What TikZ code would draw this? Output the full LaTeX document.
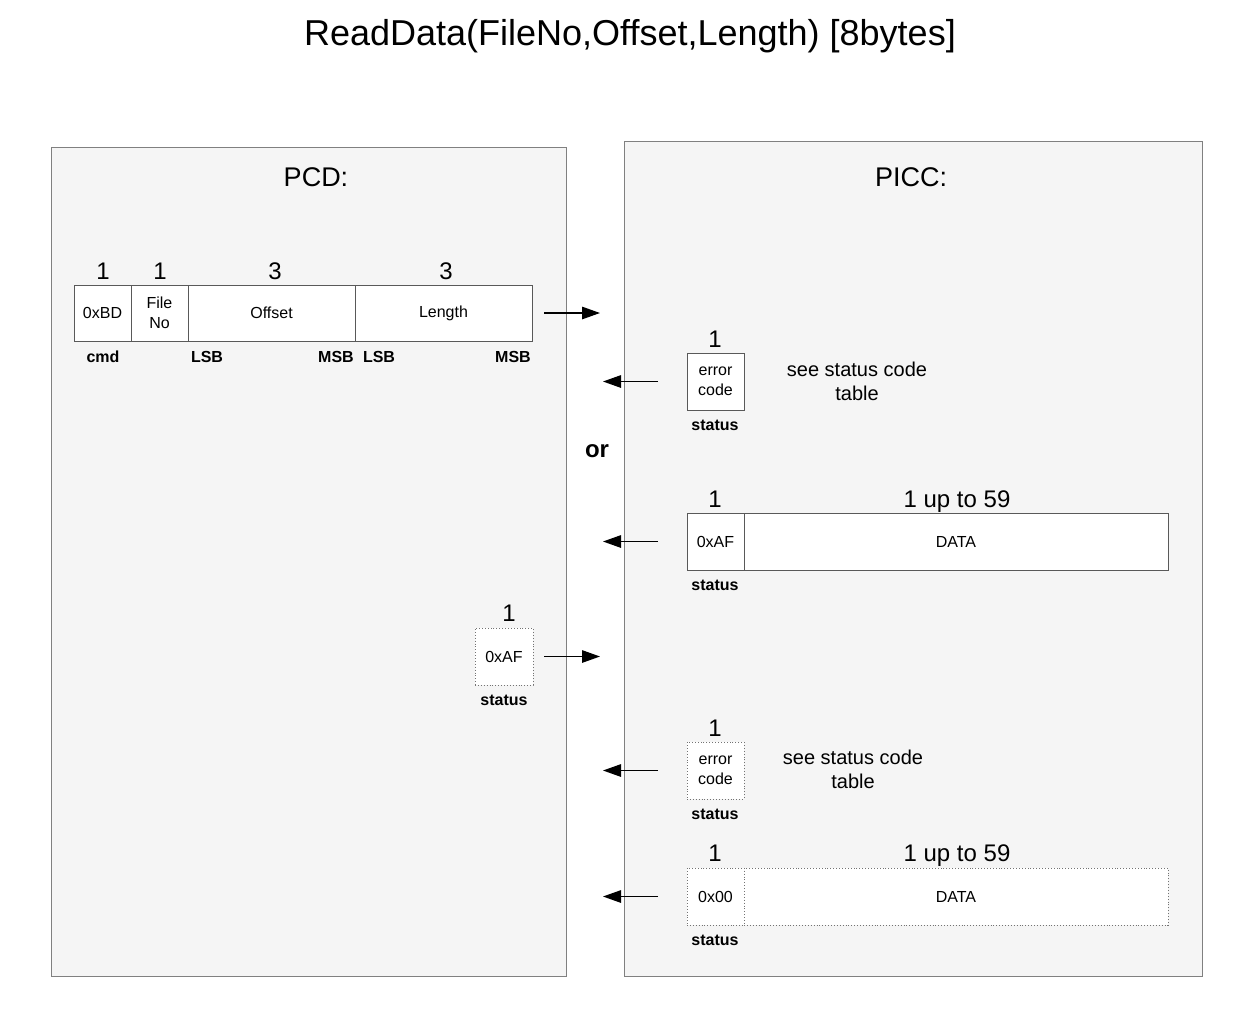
\documentclass[tikz,border=0pt]{standalone}
\usepackage{fontspec}
\setmainfont{Liberation Sans}
\usetikzlibrary{arrows.meta}
\begin{document}
\begin{tikzpicture}[x=1pt,y=-1pt,
 panel/.style={draw=black!50, line width=1pt, fill=black!4, inner sep=0pt, outer sep=0pt, anchor=north west},
 cell/.style={draw=black!65, line width=0.9pt, fill=white, inner sep=0pt, outer sep=0pt, anchor=north west, align=center, font=\fontsize{16}{20}\selectfont},
 dcell/.style={cell, draw=black!55, dotted},
 num/.style={font=\fontsize{24}{28}\selectfont, inner sep=0pt, anchor=base},
 lab/.style={font=\bfseries\fontsize{16}{19}\selectfont, inner sep=0pt, anchor=base},
 note/.style={font=\fontsize{20}{24}\selectfont, align=center, inner sep=0pt},
 arr/.style={line width=1.3pt, -{Triangle[length=18pt,width=12.5pt]}},
]
\useasboundingbox (0,0) rectangle (1248,1010);
\node[font=\fontsize{36}{40}\selectfont, inner sep=0pt, anchor=base] (title) at (630,45) {ReadData(FileNo,Offset,Length) [8bytes]};

% panels
\node[panel, minimum width=515pt, minimum height=829pt] (pcd) at (51,147) {};
\node[panel, minimum width=578pt, minimum height=835pt] (picc) at (624,141) {};
\node[font=\fontsize{27}{30}\selectfont, inner sep=0pt, anchor=base] (pcdt) at (316,186) {PCD:};
\node[font=\fontsize{27}{30}\selectfont, inner sep=0pt, anchor=base] (picct) at (911,186) {PICC:};

% command frame
\node[cell, minimum width=57pt, minimum height=56pt] (cmd) at (74,285) {0xBD};
\node[cell, minimum width=57pt, minimum height=56pt] (fno) at (131,285) {File\\No};
\node[cell, minimum width=167pt, minimum height=56pt] (off) at (188,285) {Offset};
\node[cell, minimum width=177pt, minimum height=56pt] (len) at (355,285) {Length};
\node[num] (n1) at (103,279) {1};
\node[num] (n2) at (160,279) {1};
\node[num] (n3) at (275,279) {3};
\node[num] (n4) at (446,279) {3};
\node[lab] (l1) at (103,362) {cmd};
\node[lab] (l2) at (207,362) {LSB};
\node[lab] (l3) at (336,362) {MSB};
\node[lab] (l4) at (379,362) {LSB};
\node[lab] (l5) at (513,362) {MSB};
\coordinate (e1) at (600,313);
\draw[arr] ([xshift=12pt]len.east) -- (len.east -| e1);

% error response 1
\node[cell, minimum width=57pt, minimum height=57pt] (err1) at (687,353) {error\\code};
\node[num] (n5) at (715,347) {1};
\node[lab] (l6) at (715,430) {status};
\node[note] (note1) at (857,381) {see status code\\table};
\coordinate (e2) at (603,381);
\draw[arr] ([xshift=-29pt]err1.west) -- (err1.west -| e2);

\node[font=\bfseries\fontsize{24}{28}\selectfont, inner sep=0pt, anchor=base] (or) at (597,457) {or};

% data response 1
\node[cell, minimum width=57pt, minimum height=57pt] (st2) at (687,513) {0xAF};
\node[cell, minimum width=424pt, minimum height=57pt] (data2) at (744,513) {DATA};
\node[num] (n6) at (715,507) {1};
\node[num] (n7) at (957,507) {1 up to 59};
\node[lab] (l7) at (715,590) {status};
\coordinate (e3) at (603,541);
\draw[arr] ([xshift=-29pt]st2.west) -- (st2.west -| e3);

% PCD additional frame
\node[dcell, minimum width=58pt, minimum height=57pt] (pst) at (475,628) {0xAF};
\node[num] (n8) at (509,621) {1};
\node[lab] (l8) at (504,705) {status};
\coordinate (e4) at (600,656);
\draw[arr] ([xshift=11pt]pst.east) -- (pst.east -| e4);

% error response 2
\node[dcell, minimum width=57pt, minimum height=57pt] (err2) at (687,742) {error\\code};
\node[num] (n9) at (715,736) {1};
\node[lab] (l9) at (715,819) {status};
\node[note] (note2) at (853,769) {see status code\\table};
\coordinate (e5) at (603,770);
\draw[arr] ([xshift=-29pt]err2.west) -- (err2.west -| e5);

% data response 2
\node[dcell, minimum width=57pt, minimum height=57pt] (st3) at (687,868) {0x00};
\node[dcell, minimum width=424pt, minimum height=57pt] (data3) at (744,868) {DATA};
\node[num] (n10) at (715,861) {1};
\node[num] (n11) at (957,861) {1 up to 59};
\node[lab] (l10) at (715,945) {status};
\coordinate (e6) at (603,896);
\draw[arr] ([xshift=-29pt]st3.west) -- (st3.west -| e6);
\end{tikzpicture}
\end{document}
